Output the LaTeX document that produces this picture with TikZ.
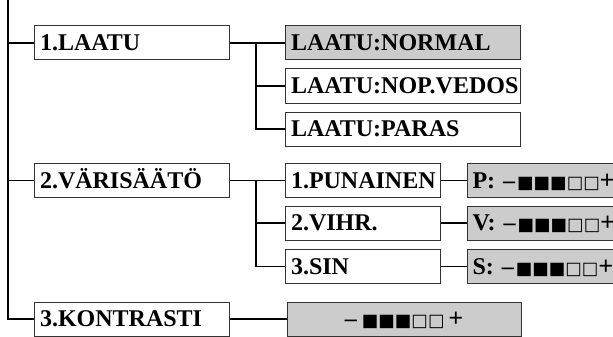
\documentclass[tikz,border=0pt]{standalone}
\usepackage{fontspec}
\setmainfont{Liberation Serif}
\newfontfamily\symfont{DejaVu Sans}
\newfontfamily\plusfont{Liberation Sans}
\definecolor{boxgray}{HTML}{CCCCCC}
\definecolor{edge}{HTML}{333333}
\newcommand{\bars}{{\symfont\mdseries\fontsize{17.5}{18}\selectfont ■■■□□}}
\newcommand{\plussym}{{\plusfont\mdseries\fontsize{25}{25}\selectfont +}}
\begin{document}
\begin{tikzpicture}[x=1pt,y=-1pt,
  box/.style={draw=edge,line width=1pt,minimum height=34pt,inner xsep=6pt,inner ysep=0pt,
    font=\fontsize{24}{24}\selectfont\bfseries,text height=15.5pt,text depth=0pt,align=left},
  wmain/.style={box,text width=183pt},
  wopt/.style={box,text width=223pt},
  wsub/.style={box,text width=143pt},
  wval/.style={box,fill=boxgray,text width=200pt,inner xsep=5pt},
  shade/.style={fill=boxgray},
  conn/.style={line width=1.4pt,black}]
\useasboundingbox (0,0) rectangle (613,337);
\clip (0,0) rectangle (613,337);
% main column
\node[wmain] (n1) at (131.5,43) {1.LAATU};
\node[wmain] (n2) at (131.5,180.5) {2.VÄRISÄÄTÖ};
\node[wmain] (n3) at (131.5,319) {3.KONTRASTI};
% quality options
\node[wopt,shade] (a1) at (402.5,43) {LAATU:NORMAL};
\node[wopt] (a2) at (402.5,86) {LAATU:NOP.VEDOS};
\node[wopt] (a3) at (402.5,129) {LAATU:PARAS};
% colour sub-items
\node[wsub] (b1) at (362.5,180.5) {1.PUNAINEN};
\node[wsub] (b2) at (362.5,223) {2.VIHR.};
\node[wsub] (b3) at (362.5,266.5) {3.SIN};
% colour values
\node[wval,anchor=west] (c1) at (467,180.5) {P: –\hspace{2pt}\bars\plussym};
\node[wval,anchor=west] (c2) at (467,223) {V: –\hspace{2pt}\bars\plussym};
\node[wval,anchor=west] (c3) at (467,266.5) {S: –\hspace{2pt}\bars\plussym};
% contrast value
\node[box,fill=boxgray,text width=222pt,align=center] (d1) at (404,319) {–\hspace{5pt}\bars\hspace{4pt}\plussym};
% connectors
\coordinate (top) at (8,0);
\draw[conn] (top) |- (n3.west);
\draw[conn] (n1.west) -- (n1.west -| top);
\draw[conn] (n2.west) -- (n2.west -| top);
\coordinate (j1) at (256,43);
\draw[conn] (n1.east) -- (a1.west);
\draw[conn] (j1) |- (a3.west);
\draw[conn] (a2.west -| j1) -- (a2.west);
\coordinate (j2) at (256,180.5);
\draw[conn] (n2.east) -- (b1.west);
\draw[conn] (j2) |- (b3.west);
\draw[conn] (b2.west -| j2) -- (b2.west);
\draw[conn] (b1.east) -- (c1.west);
\draw[conn] (b2.east) -- (c2.west);
\draw[conn] (b3.east) -- (c3.west);
\draw[conn] (n3.east) -- (d1.west);
\end{tikzpicture}
\end{document}
